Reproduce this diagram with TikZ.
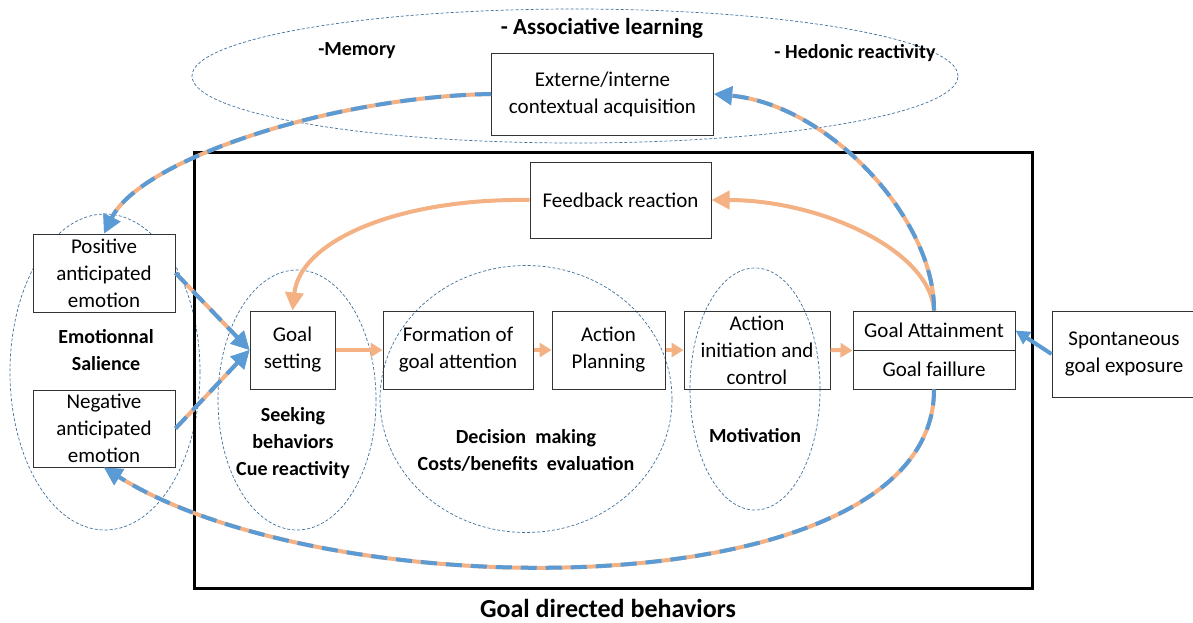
\documentclass[tikz,border=0pt]{standalone}
\usepackage{fontspec}
\setmainfont{Carlito}
\usetikzlibrary{arrows.meta,shapes.geometric,calc}
\definecolor{lorange}{HTML}{F4B183}
\definecolor{lblue}{HTML}{5B9BD5}
\definecolor{eblue}{HTML}{41719C}
\begin{document}
\begin{tikzpicture}[x=1pt,y=-1pt,
  box/.style={draw=black!80, line width=1pt, align=center, inner sep=0pt, font=\fontsize{21}{27}\selectfont},
  ell/.style={draw=eblue, ellipse, line width=0.7pt, dash pattern=on 3pt off 2pt, inner sep=0pt},
  lab/.style={font=\bfseries\fontsize{20}{27}\selectfont, align=center, inner sep=0pt},
  otip/.style={-{Triangle[length=18pt,width=18pt]}},
  oarr/.style={draw=lorange, line width=4pt, otip},
  barr/.style={draw=lblue, line width=4pt, otip},
  dual/.style={draw=lblue, line width=4pt, dash pattern=on 16pt off 9pt, otip,
    preaction={draw=lorange, line width=4pt, dash pattern=on 16pt off 0pt, -{Triangle[length=18pt,width=18pt,color=lblue]}}},
]
\useasboundingbox (0,0) rectangle (1193,622);
\fill[white] (0,0) rectangle (1193,622);
% ellipses
\node[ell, minimum width=766pt, minimum height=134pt] (elltop) at (575,76) {};
\node[ell, minimum width=190pt, minimum height=316pt] (ellemo) at (105,372) {};
\node[ell, minimum width=158pt, minimum height=260pt] (ellseek) at (297,400) {};
\node[ell, minimum width=292pt, minimum height=267pt] (elldec) at (526,399) {};
\node[ell, minimum width=130pt, minimum height=242pt] (ellmot) at (755,389) {};
% main frame
\node[draw=black, line width=3pt, minimum width=838pt, minimum height=436pt, inner sep=0pt] (frame) at (613,370) {};
% labels
\node[lab, font=\bfseries\fontsize{23}{27}\selectfont] (assoc) at (602,28) {- Associative learning};
\node[lab] (mem) at (357,51) {-Memory};
\node[lab] (hed) at (855,53) {- Hedonic reactivity};
\node[lab] (emo) at (106,350) {Emotionnal\\Salience};
\node[lab] (seek) at (293,443) {Seeking\\behaviors\\Cue reactivity};
\node[lab] (dec) at (526,450) {Decision\ \ making\\Costs/benefits\ \ evaluation};
\node[lab] (mot) at (755,436) {Motivation};
\node[lab, font=\bfseries\fontsize{26}{27}\selectfont] (gdb) at (608,608) {Goal directed behaviors};
% boxes
\node[box, fill=white, minimum width=222pt, minimum height=82pt] (ext) at (602.5,94) {Externe/interne\\contextual acquisition};
\node[box, fill=white, minimum width=181pt, minimum height=76pt] (fb) at (620.5,200) {Feedback reaction};
\node[box, fill=white, minimum width=142pt, minimum height=78pt] (pos) at (104,273) {Positive\\anticipated\\emotion};
\node[box, fill=white, minimum width=142pt, minimum height=77pt] (neg) at (104,428.5) {Negative\\anticipated\\emotion};
\node[box, minimum width=85pt, minimum height=78pt] (gs) at (292.5,350) {Goal\\setting};
\node[box, minimum width=150pt, minimum height=78pt] (form) at (458,350) {Formation of\\goal attention};
\node[box, minimum width=113pt, minimum height=78pt] (plan) at (608.5,350) {Action\\Planning};
\node[box, minimum width=146pt, minimum height=78pt] (init) at (757,350) {Action\\initiation and\\control};
\node[box, fill=white, minimum width=162pt, minimum height=39pt] (goalA) at (934,330.5) {Goal Attainment};
\node[box, fill=white, minimum width=162pt, minimum height=39pt] (goalF) at (934,369.5) {Goal faillure};
\node[box, fill=white, minimum width=144pt, minimum height=86pt] (spont) at (1124,354) {Spontaneous\\goal exposure};
% arrows
\draw[oarr, -{Triangle[length=12pt,width=14pt]}] (gs.east) -- (form.west);
\draw[oarr, -{Triangle[length=12pt,width=14pt]}] (form.east) -- (plan.west);
\draw[oarr, -{Triangle[length=12pt,width=14pt]}] (plan.east) -- (init.west);
\draw[oarr, -{Triangle[length=12pt,width=14pt]}] (init.east) -- (goalA.south west);
\draw[barr, -{Triangle[length=14pt,width=14pt]}] (spont.west) -- (goalA.east);
\draw[dual] (pos.east) -- (gs.west);
\draw[dual] (neg.east) -- (gs.west);
\draw[oarr] (goalA.north) .. controls (930,250) and (820,200) .. (fb.east);
\draw[oarr] (fb.west) .. controls (400,198) and (300,240) .. (gs.north);
\draw[dual] (goalA.north) .. controls (935,220) and (830,105) .. (ext.east);
\draw[dual] (ext.west) .. controls (330,97) and (140,160) .. (pos.north);
\draw[dual] (goalF.south) .. controls (935,610) and (330,610) .. (neg.south);
\end{tikzpicture}
\end{document}
